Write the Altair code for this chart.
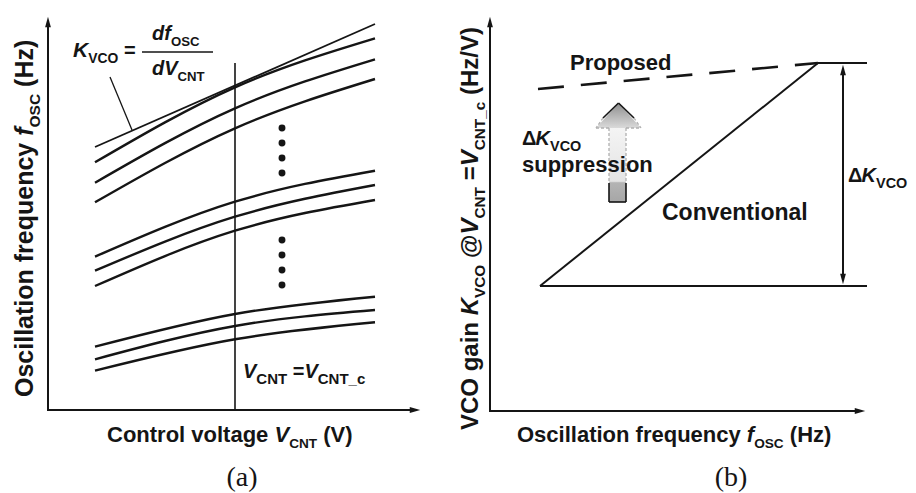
import altair as alt
import pandas as pd

# Figure units: x to the right, y downward, on the 916 x 493 canvas.
W, H = 916, 493

# ---------------- Panel (a): f_osc vs V_CNT tuning curves ----------------
curve_v = [95, 235, 375]                 # control-voltage sample positions
curves_f = [                             # f_osc (figure units) at curve_v
    [162.3, 87.3, 38.3],
    [182.7, 108.3, 59.3],
    [202.3, 128.3, 79.0],
    [256.7, 201.7, 170.7],
    [270.7, 216.7, 185.0],
    [286.0, 230.7, 200.0],
    [346.7, 314.0, 296.7],
    [359.3, 326.0, 310.0],
    [370.7, 339.3, 322.3],
]
tangent_v = [95, 375]
tangent_f = [147.0, 24.0]
dots_v = [282, 282, 282, 282, 282, 282, 282, 282]
dots_f = [128, 143, 158, 173, 240, 255, 270, 285]
vcnt_c = 235

# ---------------- Panel (b): K_VCO vs f_osc ----------------
conv_f = [540, 818]
conv_k = [286, 63]
prop_f = [538, 818]
prop_k = [89, 63]
kmin, kmax = 286, 63

# ---------------- build tables ----------------
curve_rows = []
for i, fs in enumerate(curves_f):
    for j, (v, f) in enumerate(zip(curve_v, fs)):
        curve_rows.append(dict(id=i, o=j, x=v, y=f))
curves_df = pd.DataFrame(curve_rows)

axis_segs = pd.DataFrame([
    dict(x=48, y=411, x2=48, y2=24), dict(x=47, y=410, x2=414, y2=410),
    dict(x=490, y=412, x2=490, y2=24), dict(x=489, y=411, x2=859, y2=411),
])
thin_segs = pd.DataFrame([
    dict(x=vcnt_c, y=63, x2=vcnt_c, y2=410),
    dict(x=142, y=52, x2=213, y2=52),
])
pointer_seg = pd.DataFrame([dict(x=110, y=77, x2=132, y2=130)])
tangent_seg = pd.DataFrame([dict(x=tangent_v[0], y=tangent_f[0], x2=tangent_v[1], y2=tangent_f[1])])
b_segs = pd.DataFrame([
    dict(x=conv_f[0], y=conv_k[0], x2=conv_f[1], y2=conv_k[1]),
    dict(x=conv_f[0], y=kmin, x2=867, y2=kmin),
    dict(x=conv_f[1], y=kmax, x2=867, y2=kmax),
    dict(x=843, y=kmax + 6, x2=843, y2=kmin - 6),
])
dash_seg = pd.DataFrame([dict(x=prop_f[0], y=prop_k[0], x2=prop_f[1], y2=prop_k[1])])

arrow_up = pd.DataFrame([dict(x=48, y=22), dict(x=490, y=22), dict(x=843, y=70)])
arrow_right = pd.DataFrame([dict(x=415, y=410), dict(x=860, y=411)])
arrow_down = pd.DataFrame([dict(x=843, y=279)])

# big "suppression" arrow
shaft = pd.DataFrame([dict(x=609, x2=626, y=128, y2=202)])
head = pd.DataFrame([dict(x=596, y=128, y2=128), dict(x=618.5, y=103, y2=128), dict(x=641, y=128, y2=128)])
arrow_dark = pd.DataFrame([
    dict(x=609, y=183, x2=609, y2=202), dict(x=626, y=183, x2=626, y2=202),
    dict(x=609, y=202, x2=626, y2=202),
    dict(x=618.5, y=103, x2=603, y2=118), dict(x=618.5, y=103, x2=634, y2=118),
])
arrow_light = pd.DataFrame([
    dict(x=609, y=128, x2=609, y2=183), dict(x=626, y=128, x2=626, y2=183),
    dict(x=603, y=118, x2=596, y2=128), dict(x=634, y=118, x2=641, y2=128),
    dict(x=596, y=128, x2=609, y2=128), dict(x=626, y=128, x2=641, y2=128),
])

# ---------------- text layout ----------------
BW = {' ': .278, '(': .333, ')': .333, '/': .278, '=': .584, '@': .975, '_': .556, 'Δ': .68,
      'C': .722, 'H': .722, 'K': .722, 'N': .722, 'O': .778, 'P': .667, 'S': .667, 'T': .611,
      'V': .667, 'a': .556, 'c': .556, 'd': .611, 'e': .556, 'f': .333, 'g': .611, 'i': .278,
      'l': .278, 'n': .611, 'o': .611, 'p': .611, 'q': .611, 'r': .389, 's': .556, 't': .333,
      'u': .611, 'v': .556, 'y': .556, 'z': .5}


def tw(s, size):
    return sum(BW.get(c, .6) for c in s) * size


def layout(pieces, x0, y0, size, vertical=False, sub=0.62, shift=0.28):
    out, pos = [], 0.0
    for txt, kind in pieces:
        s = size * sub if kind == "s" else size
        off = size * shift if kind == "s" else 0.0
        lead = len(txt) - len(txt.lstrip(" "))
        p = pos + lead * BW[' '] * s
        if vertical:
            x, y = x0 + off, y0 - p
        else:
            x, y = x0 + p, y0 + off
        out.append(dict(x=x, y=y, text=txt.strip(), size=s, it=(kind == "i"), vert=vertical))
        pos += tw(txt, s)
    return out


labels = [
    ([("Control voltage ", "n"), ("V", "i"), ("CNT", "s"), (" (V)", "n")], 107, 442, 22, False, 0.62),
    ([("Oscillation frequency ", "n"), ("f", "i"), ("OSC", "s"), (" (Hz)", "n")], 33, 397, 25, True, 0.62),
    ([("Oscillation frequency ", "n"), ("f", "i"), ("OSC", "s"), (" (Hz)", "n")], 517, 442, 22, False, 0.62),
    ([("VCO gain ", "n"), ("K", "i"), ("VCO", "s"), (" @", "n"), ("V", "i"), ("CNT", "s"),
      (" =", "n"), ("V", "i"), ("CNT_c", "s"), (" (Hz/V)", "n")], 478, 430, 24, True, 0.64),
    ([("Proposed", "n")], 570, 70, 22, False, 0.62),
    ([("Conventional", "n")], 662, 220, 23, False, 0.62),
    ([("Δ", "n"), ("K", "i"), ("VCO", "s")], 848, 182, 20, False, 0.72),
    ([("Δ", "n"), ("K", "i"), ("VCO", "s")], 522, 145, 20, False, 0.72),
    ([("suppression", "n")], 522, 172, 22, False, 0.62),
    ([("K", "i"), ("VCO", "s")], 73, 57, 21, False, 0.66),
    ([("=", "n")], 124, 57, 20, False, 0.62),
    ([("df", "i"), ("OSC", "s")], 152, 40, 20, False, 0.66),
    ([("dV", "i"), ("CNT", "s")], 152, 75, 20, False, 0.66),
    ([("V", "i"), ("CNT", "s"), (" =", "n"), ("V", "i"), ("CNT_c", "s")], 243, 378, 20, False, 0.75),
]
rows = []
for pieces, x0, y0, size, vert, sub in labels:
    rows += layout(pieces, x0, y0, size, vert, sub)
text_df = pd.DataFrame(rows)

serif_df = pd.DataFrame([dict(x=242, y=486, text="(a)"), dict(x=731, y=486, text="(b)")])

# ---------------- chart ----------------
xs = alt.Scale(domain=[0, W], nice=False, zero=False)
ys = alt.Scale(domain=[0, H], nice=False, zero=False, reverse=True)
X = alt.X("x:Q", scale=xs, axis=None)
Y = alt.Y("y:Q", scale=ys, axis=None)
INK = "#151515"


def rules(df, width, color=INK, dash=None):
    kw = dict(color=color, strokeWidth=width)
    if dash:
        kw["strokeDash"] = dash
    return alt.Chart(df).mark_rule(**kw).encode(x=X, y=Y, x2="x2:Q", y2="y2:Q")


layers = [
    alt.Chart(shaft).mark_rect(fill=alt.Gradient(
        gradient="linear", x1=0, y1=0, x2=0, y2=1,
        stops=[alt.GradientStop(color="#f4f4f4", offset=0),
               alt.GradientStop(color="#e4e4e4", offset=0.72),
               alt.GradientStop(color="#b4b4b4", offset=0.74),
               alt.GradientStop(color="#a6a6a6", offset=1)])).encode(x=X, y=Y, x2="x2:Q", y2="y2:Q"),
    alt.Chart(head).mark_area(fill=alt.Gradient(
        gradient="linear", x1=0, y1=0, x2=0, y2=1,
        stops=[alt.GradientStop(color="#8e8e8e", offset=0),
               alt.GradientStop(color="#dadada", offset=1)])).encode(x=X, y=Y, y2="y2:Q"),
    rules(arrow_light, 1.3, "#b0b0b0", [3, 2]),
    rules(arrow_dark, 1.6),
    alt.Chart(curves_df).mark_line(interpolate="natural", color=INK, strokeWidth=2.4).encode(
        x=X, y=Y, detail="id:N", order="o:Q"),
    rules(tangent_seg, 1.8),
    rules(pointer_seg, 1.3),
    rules(axis_segs, 2),
    rules(thin_segs, 1.6),
    rules(b_segs, 2),
    rules(dash_seg, 2.6, dash=[26, 17]),
    alt.Chart(pd.DataFrame({"x": dots_v, "y": dots_f})).mark_circle(size=48, color=INK, opacity=1).encode(x=X, y=Y),
    alt.Chart(arrow_up).mark_point(shape="M0,-1L0.55,1L-0.55,1Z", filled=True, size=110, color=INK, opacity=1).encode(x=X, y=Y),
    alt.Chart(arrow_right).mark_point(shape="M1,0L-1,0.55L-1,-0.55Z", filled=True, size=110, color=INK, opacity=1).encode(x=X, y=Y),
    alt.Chart(arrow_down).mark_point(shape="M0,1L0.55,-1L-0.55,-1Z", filled=True, size=110, color=INK, opacity=1).encode(x=X, y=Y),
]

for it in (False, True):
    for vert in (False, True):
        sub = text_df[(text_df.it == it) & (text_df.vert == vert)]
        if len(sub) == 0:
            continue
        kw = dict(align="left", baseline="alphabetic", font="Liberation Sans",
                  fontWeight="bold", color=INK)
        if it:
            kw["fontStyle"] = "italic"
        if vert:
            kw["angle"] = 270
        layers.append(alt.Chart(sub).mark_text(**kw).encode(
            x=X, y=Y, text="text:N", size=alt.Size("size:Q", scale=None)))

layers.append(alt.Chart(serif_df).mark_text(align="center", baseline="alphabetic",
                                            font="Liberation Serif", fontSize=28, color=INK).encode(
    x=X, y=Y, text="text:N"))

chart = alt.layer(*layers).properties(
    width=W, height=H, padding=0, autosize=alt.AutoSizeParams(type="none"),
    background="white").configure_view(stroke=None)

chart.save("out.html", embed_options={"renderer": "svg", "actions": False})
